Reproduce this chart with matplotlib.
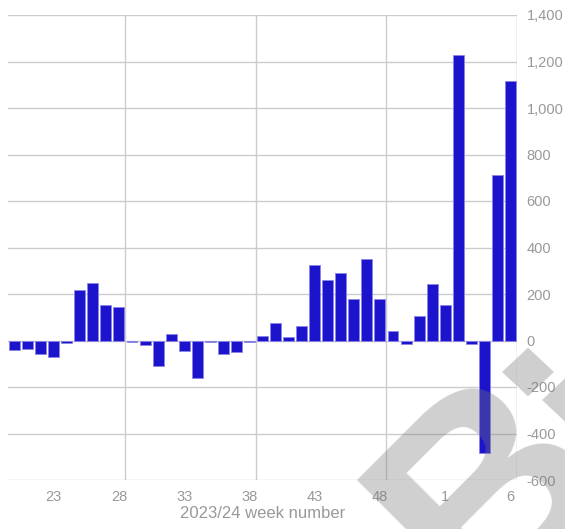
import numpy as np
import matplotlib
matplotlib.use('Agg')
from matplotlib import pyplot as plt
from matplotlib.patches import RegularPolygon

plt.rcParams['font.family'] = ['Liberation Sans', 'DejaVu Sans']

# week numbers 2023 wk20 .. 2024 wk6
weeks = list(range(20, 53)) + list(range(1, 7))
values = [-40, -36, -60, -70, -10, 216, 246, 153, 143, -5,
          -21, -109, 27, -46, -163, -5, -60, -50, -5, 21,
          74, 14, 64, 326, 261, 291, 177, 351, 177, 40,
          -14, 107, 242, 152, 1228, -14, -485, 710, 1116]
tick_weeks = [23, 28, 33, 38, 43, 48, 1, 6]
y_ticks = [-600, -400, -200, 0, 200, 400, 600, 800, 1000, 1200, 1400]

x = np.arange(len(weeks))
tick_pos = [weeks.index(w) if w > 19 else 33 + w - 1 for w in tick_weeks]

fig = plt.figure(figsize=(5.65, 5.29), dpi=100)
ax = fig.add_axes([8/565, 49/529, 509/565, 465/529])

grid_c = '#cccccc'
for yv in y_ticks:
    ax.axhline(yv, color=grid_c, lw=1, zorder=0)
for xv in [8.5, 18.5, 28.5]:
    ax.axvline(xv, color=grid_c, lw=1, zorder=0)
ax.axvline(38.5, color='#bbbbbb', lw=1, zorder=0)

ax.bar(x, values, width=0.84, color='#1c14cc', edgecolor='#8b86e6', linewidth=0.6, zorder=2)

ax.set_xlim(-0.5, 38.5)
ax.set_ylim(-600, 1400)
for s in ax.spines.values():
    s.set_visible(False)

ax.set_xticks(tick_pos)
ax.set_xticklabels([str(w) for w in tick_weeks], color='#999999', fontsize=10.5)
ax.tick_params(axis='x', length=0, pad=7)
ax.yaxis.tick_right()
ax.set_yticks(y_ticks)
ax.set_yticklabels(['{:,}'.format(v) for v in y_ticks], color='#999999', fontsize=10.5)
ax.tick_params(axis='y', length=0, pad=7)
for lab in ax.get_yticklabels():
    lab.set_horizontalalignment('left')
ax.set_xlabel('2023/24 week number', color='#999999', fontsize=12, labelpad=2)

# watermark
fig.text(0.875, 0.065, 'B', fontsize=200, fontweight='bold', color='#777777', alpha=0.35,
         rotation=45, ha='center', va='center', zorder=10)
for cx, cy, r in [(528, 372, 26), (568, 400, 26)]:
    fig.patches.append(RegularPolygon((cx/565, 1 - cy/529), 4, radius=r/565,
                                      orientation=0, transform=fig.transFigure,
                                      color='#777777', alpha=0.35, lw=0, zorder=10))

fig.savefig('out.png', dpi=100)
